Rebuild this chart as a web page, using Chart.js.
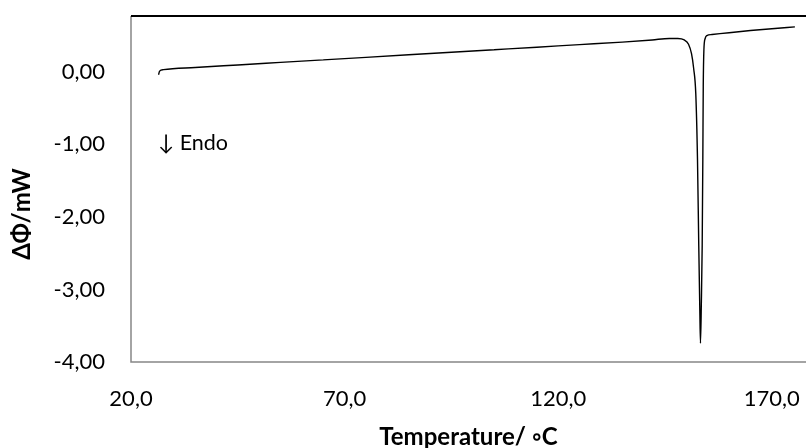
<!DOCTYPE html>
<html>
<head>
<meta charset="utf-8">
<script src="https://cdn.jsdelivr.net/npm/chart.js@4/dist/chart.umd.min.js"></script>
<style>
  html, body { margin: 0; padding: 0; background: #fff; overflow: hidden; }
  #wrap { width: 806px; height: 448px; position: relative; }
</style>
</head>
<body>
<div id="wrap"><canvas id="dsc"></canvas></div>
<script>
// DSC curve: heat flow vs temperature, one sharp endothermic peak near 153 C

const temperature = [
  26.45, 26.7, 27.6, 35, 45, 55, 65, 75, 85, 95, 105, 115, 125, 135, 142, 146,
  148, 149.5, 150.5, 151.2, 151.7, 152.2, 152.6, 152.9, 153.15, 153.3,
  153.5, 153.7, 153.85, 153.95, 154.1, 154.4, 154.8, 156, 160, 165, 170, 175.4
];
const heatFlow = [
  -0.04, 0.01, 0.03, 0.06, 0.095, 0.13, 0.165, 0.2, 0.235, 0.27, 0.305, 0.34, 0.375, 0.41, 0.44, 0.46,
  0.46, 0.44, 0.38, 0.25, 0.05, -0.3, -1.2, -2.4, -3.3, -3.74,
  -3.2, -2.4, -1.2, -0.2, 0.3, 0.46, 0.5, 0.515, 0.54, 0.57, 0.595, 0.62
];
const xTicks = [20, 70, 120, 170];
const yTicks = [-4, -3, -2, -1, 0];

const xTitle = 'Temperature/ \u25E6C';
const yTitle = '\u0394\u03A6/mW';
const note = '\u2193 Endo';

const fontFamily = 'Lato, "Open Sans", sans-serif';

// frame + titles, drawn by hand to match the spreadsheet look
const framePlugin = {
  id: 'frame',
  afterDraw(chart) {
    const { ctx, chartArea: a } = chart;
    ctx.save();
    ctx.strokeStyle = '#868686';
    ctx.lineWidth = 1.5;
    ctx.beginPath();
    ctx.moveTo(a.left, a.top);
    ctx.lineTo(a.left, a.bottom);
    ctx.lineTo(a.right, a.bottom);
    ctx.stroke();
    ctx.strokeStyle = '#000';
    ctx.lineWidth = 2;
    ctx.beginPath();
    ctx.moveTo(a.left, a.top);
    ctx.lineTo(a.right, a.top);
    ctx.stroke();

    ctx.fillStyle = '#000';
    ctx.font = 'bold 24px ' + fontFamily;
    ctx.textAlign = 'center';
    ctx.textBaseline = 'middle';
    ctx.fillText(xTitle, (a.left + a.right) / 2, 437);
    ctx.save();
    ctx.translate(22, 214);
    ctx.rotate(-Math.PI / 2);
    ctx.fillText(yTitle, 0, 0);
    ctx.restore();

    ctx.font = '21.5px ' + fontFamily;
    ctx.textAlign = 'left';
    ctx.fillText(note, 158, 143);
    ctx.restore();
  }
};

new Chart(document.getElementById('dsc'), {
  type: 'line',
  data: {
    datasets: [{
      data: temperature.map((t, i) => ({ x: t, y: heatFlow[i] })),
      borderColor: '#000',
      borderWidth: 1.4,
      pointRadius: 0,
      fill: false,
      cubicInterpolationMode: 'monotone'
    }]
  },
  options: {
    responsive: true,
    maintainAspectRatio: false,
    animation: false,
    layout: { padding: { top: 16, right: 0, left: 0, bottom: 0 } },
    plugins: { legend: { display: false }, tooltip: { enabled: false } },
    scales: {
      x: {
        type: 'linear',
        min: 20,
        max: 178,
        grid: { display: false, drawTicks: false },
        border: { display: false },
        afterFit(s) { s.height = 86; s.paddingLeft = 0; s.paddingRight = 0; },
        afterBuildTicks(s) { s.ticks = xTicks.map(v => ({ value: v })); },
        ticks: {
          padding: 24,
          color: '#000',
          font: { family: fontFamily, size: 22 },
          maxRotation: 0,
          callback: v => v.toFixed(1).replace('.', ',')
        }
      },
      y: {
        min: -4,
        max: 0.77,
        grid: { display: false, drawTicks: false },
        border: { display: false },
        afterFit(s) { s.width = 131; s.paddingTop = 0; s.paddingBottom = 0; },
        afterBuildTicks(s) { s.ticks = yTicks.map(v => ({ value: v })); },
        ticks: {
          padding: 26,
          color: '#000',
          font: { family: fontFamily, size: 22 },
          callback: v => v.toFixed(2).replace('.', ',')
        }
      }
    }
  },
  plugins: [framePlugin]
});
</script>
</body>
</html>
